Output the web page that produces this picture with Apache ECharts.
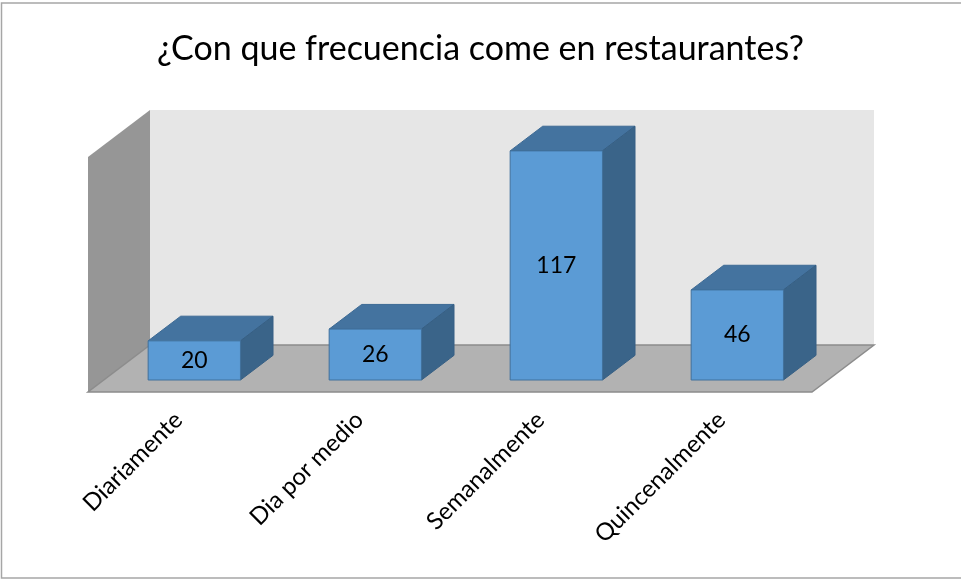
<!DOCTYPE html>
<html>
<head>
<meta charset="utf-8">
<script src="https://cdn.jsdelivr.net/npm/echarts@6/dist/echarts.min.js"></script>
<style>
html,body{margin:0;padding:0;background:#fff;}
#chart{width:961px;height:580px;}
</style>
</head>
<body>
<div id="chart"></div>
<script>
var titleText = '¿Con que frecuencia come en restaurantes?';
var categories = ['Diariamente', 'Dia por medio', 'Semanalmente', 'Quincenalmente'];
var values = [20, 26, 117, 46];
var axisMax = 120;

var DX = 62, DY = -47;          // full depth of the floor
var T0 = 0.255, T1 = 0.78;      // bar depth range (fraction of floor depth)
var BAR_FRAC = 0.51;
var FONT = 'Lato, "Open Sans", sans-serif';

var chart = echarts.init(document.getElementById('chart'), null, {renderer: 'canvas'});

function renderWalls(params, api) {
  var n = categories.length;
  var bw = api.size([1, 0])[0];
  var p0 = api.coord([0, 0]);
  var pT = api.coord([0, axisMax]);
  var x0 = p0[0] - bw / 2;
  var x1 = api.coord([n - 1, 0])[0] + bw / 2;
  var yb = p0[1], yt = pT[1];
  return {
    type: 'group',
    children: [
      {type: 'polygon', shape: {points: [[x0 + DX, yt + DY], [x1 + DX, yt + DY], [x1 + DX, yb + DY], [x0 + DX, yb + DY]]},
        style: {fill: '#e6e6e6'}},
      {type: 'polygon', shape: {points: [[x0, yb], [x0, yt], [x0 + DX, yt + DY], [x0 + DX, yb + DY]]},
        style: {fill: '#969696'}},
      {type: 'polygon', shape: {points: [[x0, yb], [x1, yb], [x1 + DX, yb + DY], [x0 + DX, yb + DY]]},
        style: {fill: '#b2b2b2', stroke: '#8c8c8c', lineWidth: 1.5}}
    ]
  };
}

function renderBar(params, api) {
  var idx = api.value(0);
  var v = api.value(1);
  var bw = api.size([1, 0])[0] * BAR_FRAC;
  var base = api.coord([idx, 0]);
  var top = api.coord([idx, v]);
  var ox = DX * T0, oy = DY * T0;
  var dx = DX * (T1 - T0), dy = DY * (T1 - T0);
  var xl = base[0] - bw / 2 + ox, xr = base[0] + bw / 2 + ox;
  var yb = base[1] + oy, yt = top[1] + oy;
  return {
    type: 'group',
    children: [
      {type: 'polygon', shape: {points: [[xl, yt], [xl + dx, yt + dy], [xr + dx, yt + dy], [xr, yt]]},
        style: {fill: '#44739f', stroke: '#3d6a94', lineWidth: 1}},
      {type: 'polygon', shape: {points: [[xr, yt], [xr + dx, yt + dy], [xr + dx, yb + dy], [xr, yb]]},
        style: {fill: '#3a6489', stroke: '#365f84', lineWidth: 1}},
      {type: 'rect', shape: {x: xl, y: yt, width: xr - xl, height: yb - yt},
        style: {fill: '#5b9bd5', stroke: '#41719c', lineWidth: 1}},
      {type: 'text', style: {text: String(v), x: (xl + xr) / 2, y: (yt + yb) / 2,
        textAlign: 'center', textVerticalAlign: 'middle', fill: '#000',
        font: '23px ' + FONT}}
    ]
  };
}

var option = {
  animation: false,
  backgroundColor: '#ffffff',
  title: {
    text: titleText, left: 'center', top: 27,
    textStyle: {fontSize: 34, fontWeight: 'normal', color: '#000', fontFamily: FONT}
  },
  graphic: [
    {type: 'rect', shape: {x: 1.5, y: 3, width: 970, height: 575}, style: {fill: 'none', stroke: '#a6a6a6', lineWidth: 1.5}, z: 100}
  ],
  grid: {left: 88, right: 149, top: 157, bottom: 188},
  xAxis: {
    type: 'category', data: categories,
    axisLine: {show: false}, axisTick: {show: false},
    axisLabel: {rotate: 45, margin: 24, fontSize: 24, color: '#000', fontFamily: FONT, interval: 0}
  },
  yAxis: {type: 'value', min: 0, max: axisMax, show: false, splitLine: {show: false}},
  series: [
    {type: 'custom', renderItem: renderWalls, data: [[0, 0]], silent: true, z: 1},
    {type: 'custom', renderItem: renderBar, data: values.map(function (v, i) { return [i, v]; }), z: 2}
  ]
};
chart.setOption(option);
</script>
</body>
</html>
